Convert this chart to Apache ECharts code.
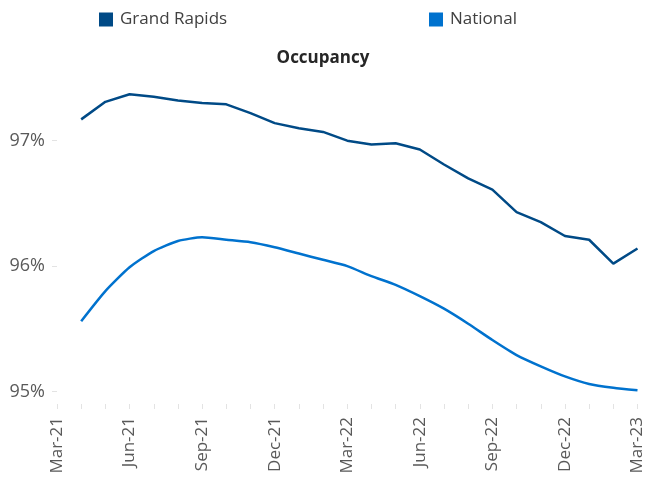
<!DOCTYPE html>
<html>
<head>
<meta charset="utf-8">
<script src="https://cdn.jsdelivr.net/npm/echarts@6/dist/echarts.min.js"></script>
<style>
  html, body { margin: 0; padding: 0; background: #fff; }
  #chart { width: 646px; height: 480px; }
</style>
</head>
<body>
<div id="chart"></div>
<script>
// months shown on the axis, Mar-21 has no reading
var months = ['Mar-21', 'Apr-21', 'May-21', 'Jun-21', 'Jul-21', 'Aug-21', 'Sep-21', 'Oct-21', 'Nov-21',
  'Dec-21', 'Jan-22', 'Feb-22', 'Mar-22', 'Apr-22', 'May-22', 'Jun-22', 'Jul-22', 'Aug-22',
  'Sep-22', 'Oct-22', 'Nov-22', 'Dec-22', 'Jan-23', 'Feb-23', 'Mar-23']

var grandRapids = [null, 97.17, 97.31, 97.37, 97.35, 97.32, 97.30, 97.29, 97.22, 97.14, 97.10, 97.07,
  97.00, 96.97, 96.98, 96.93, 96.81, 96.70, 96.61, 96.43, 96.35, 96.24, 96.21, 96.02, 96.14]

var national = [null, 95.56, 95.80, 95.99, 96.12, 96.20, 96.23, 96.21, 96.19, 96.15, 96.10, 96.05,
  96.00, 95.92, 95.85, 95.76, 95.66, 95.54, 95.41, 95.29, 95.20, 95.12, 95.06, 95.03, 95.01]

var yTicks = [95, 96, 97]

var FONT = 'Open Sans'
var chart = echarts.init(document.getElementById('chart'))

function legendItem(name, left) {
  return {
    data: [name],
    left: left,
    top: 6,
    icon: 'rect',
    itemWidth: 14,
    itemHeight: 14,
    textStyle: {fontFamily: FONT, fontSize: 17, color: '#404040', padding: [0, 0, 0, 2]},
  }
}

chart.setOption({
  animation: false,
  color: ['#004A86', '#0072CE'],
  textStyle: {fontFamily: FONT},
  title: {
    text: 'Occupancy',
    left: 'center',
    top: 45,
    textStyle: {fontFamily: FONT, fontSize: 17, fontWeight: 'bold', color: '#262626'},
  },
  legend: [legendItem('Grand Rapids', 94), legendItem('National', 424)],
  grid: {
    left: 57,
    right: 7,
    top: 78,
    bottom: 76,
    containLabel: false,
  },
  xAxis: {
    type: 'category',
    data: months,
    boundaryGap: false,
    axisLine: {show: false},
    axisTick: {
      show: true,
      length: 5,
      interval: 0,
      lineStyle: {color: '#E3E3E3'},
    },
    axisLabel: {
      interval: 2,
      rotate: 90,
      margin: 13,
      fontFamily: FONT,
      fontSize: 17,
      color: '#595959',
    },
  },
  yAxis: {
    type: 'value',
    min: 94.9,
    max: 97.5,
    splitLine: {show: false},
    axisLine: {show: false},
    axisTick: {
      show: true,
      length: 5,
      customValues: yTicks,
      lineStyle: {color: '#E3E3E3'},
    },
    axisLabel: {
      customValues: yTicks,
      margin: 12,
      fontFamily: FONT,
      fontSize: 18,
      color: '#595959',
      formatter: function (v) { return Math.round(v) + '%' },
    },
  },
  series: [
    {
      name: 'Grand Rapids',
      type: 'line',
      data: grandRapids,
      showSymbol: false,
      lineStyle: {width: 2.5},
    },
    {
      name: 'National',
      type: 'line',
      data: national,
      smooth: 0.2,
      showSymbol: false,
      lineStyle: {width: 2.5},
    },
  ],
})
</script>
</body>
</html>
